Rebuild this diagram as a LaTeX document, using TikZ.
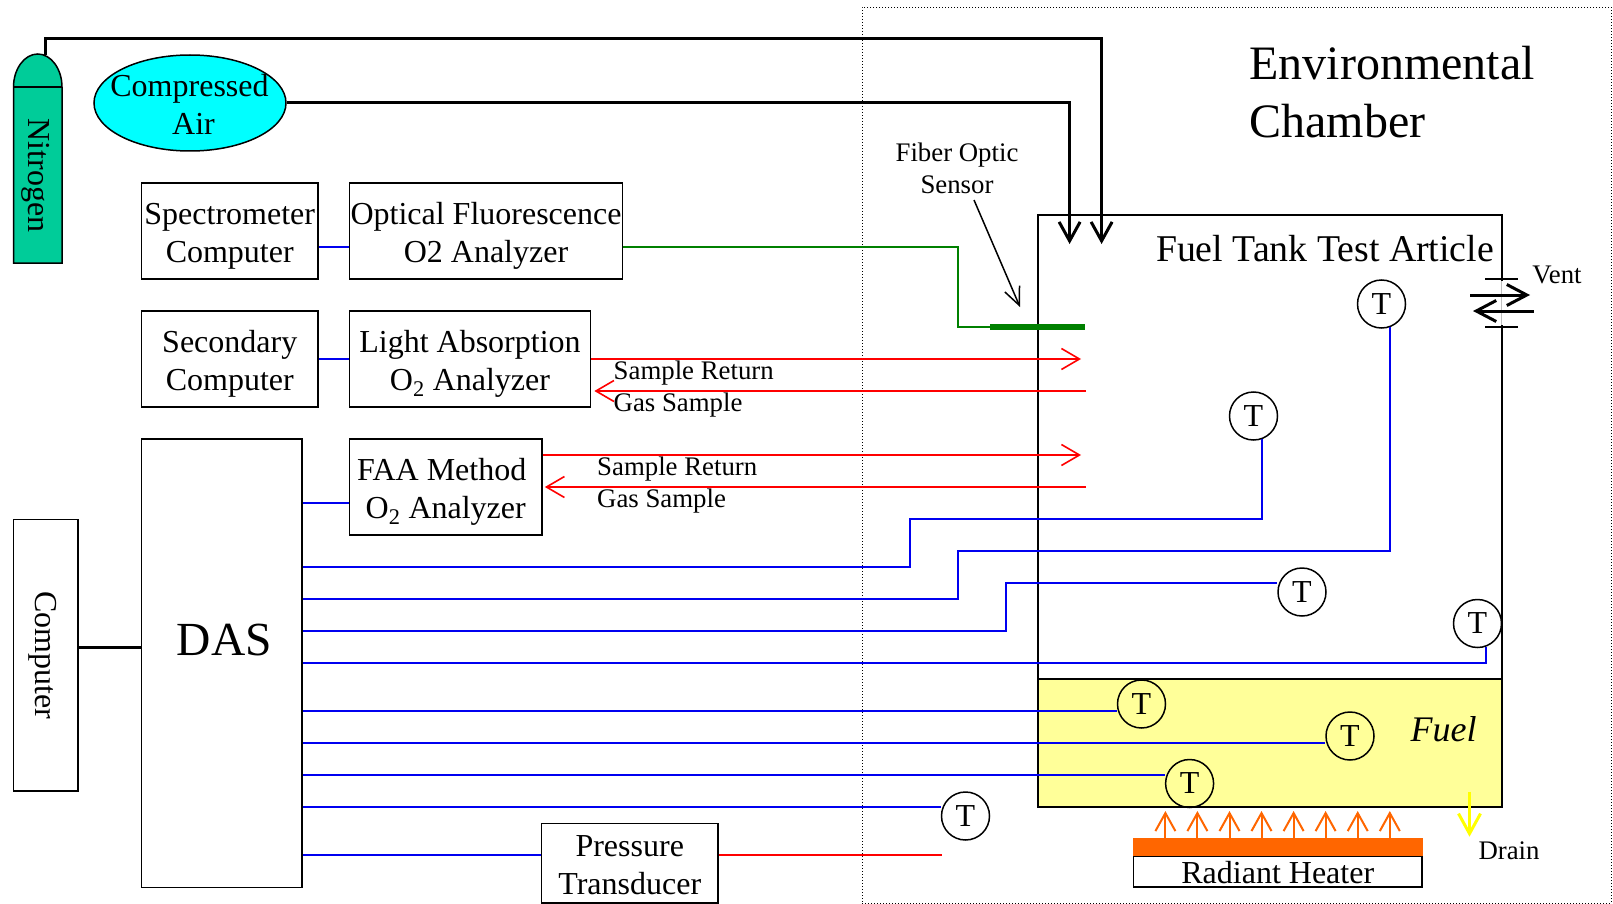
\documentclass[tikz,border=0pt]{standalone}
\usepackage{fontspec}
\setmainfont{Liberation Serif}
\usetikzlibrary{arrows.meta,calc,shapes.geometric}
\definecolor{nitro}{HTML}{00CC99}
\definecolor{fuelc}{HTML}{FFFF99}
\definecolor{heat}{HTML}{FF6600}
\definecolor{grn}{HTML}{008000}
\definecolor{blu}{HTML}{0000F0}
\definecolor{aircol}{HTML}{00FFFF}
\definecolor{drainc}{HTML}{FFFF00}
\definecolor{redc}{HTML}{FF0000}
\newcommand{\fs}[2]{\fontsize{#1pt}{#2pt}\selectfont}
\tikzset{
 box/.style={draw=black,line width=1.7pt,inner sep=0pt},
 bigtxt/.style={inner sep=0pt,align=center,font=\fs{32}{38}},
 small/.style={inner sep=0pt,align=center,font=\fs{26.8}{32}},
 boxtext/.style={bigtxt,yshift=-5pt},
 tnode/.style={draw=black,line width=1.5pt,circle,minimum size=48pt,inner sep=0pt,font=\fs{32}{38}},
 blueline/.style={draw=blu,line width=2pt},
 redline/.style={draw=redc,line width=1.6pt},
 redarrow/.style={redline,-{Straight Barb[length=18pt,width=21pt]}},
 blackpipe/.style={draw=black,line width=3pt,-{Straight Barb[length=19pt,width=21pt]}},
 vent/.style={draw=black,line width=3pt,-{Straight Barb[length=20pt,width=21pt]}},
 heatarrow/.style={draw=heat,line width=2pt,-{Straight Barb[length=18pt,width=20pt]}},
}
\begin{document}
\begin{tikzpicture}[x=1pt,y=-1pt]
\useasboundingbox (0,0) rectangle (1613,904);
\fill[white] (0,0) rectangle (1613,904);
% chamber
\node[draw=black,dash pattern=on 1pt off 2pt,line width=0.8pt,inner sep=0pt,minimum width=749pt,minimum height=896pt] (chamber) at (1236.5,455) {};
\node[inner sep=0pt,align=left,font=\fs{48}{58}] (envlabel) at (1392,92) {Environmental\\Chamber};
% tank
\node[draw=black,line width=2pt,inner sep=0pt,minimum width=464pt,minimum height=464pt] (tank) at (1269.5,447) {};
\node[draw=black,fill=fuelc,line width=2pt,inner sep=0pt,minimum width=464pt,minimum height=128pt] (fuel) at (1269.5,743) {};
\node[inner sep=0pt,font=\fs{37.8}{40}] (tanklabel) at (1325,249) {Fuel Tank Test Article};
\node[inner sep=0pt,font=\fs{36}{40}\itshape] (fuellabel) at (1443.7,729) {Fuel};
% vent
\draw[white,line width=2.6pt] (1501.6,281) -- (1501.6,325);
\draw[black!25,line width=1.2pt] (1501.6,281) -- (1501.6,325);
\coordinate (ventA) at (1485,279); \coordinate (ventB) at (1518,279);
\coordinate (ventC) at (1485,327); \coordinate (ventD) at (1518,327);
\draw[black,line width=1.5pt] (ventA) -- (ventB);
\draw[black,line width=1.5pt] (ventC) -- (ventD);
\coordinate (vent1) at (1470,295); \coordinate (vent2) at (1530,295);
\coordinate (vent3) at (1533.6,311); \coordinate (vent4) at (1473,311);
\draw[vent] (vent1) -- (vent2);
\draw[vent] (vent3) -- (vent4);
\node[small] (ventlabel) at (1557,275) {Vent};
% nitrogen
\draw[fill=nitro,line width=1.5pt] (13.5,87) .. controls (13.5,69) and (24.4,54) .. (37.75,54) .. controls (51.1,54) and (62,69) .. (62,87) -- (62,263) -- (13.5,263) -- cycle;
\draw[line width=1.5pt] (13.5,87) -- (62,87);
\node[bigtxt,rotate=-90] (nitrogen) at (36,175.5) {Nitrogen};
\node[draw=black,fill=aircol,line width=1.5pt,ellipse,inner sep=0pt,minimum width=192pt,minimum height=96pt] (air) at (190,103) {};
\node[bigtxt] (airlabel) at (189.5,104) {Compressed\\\hspace*{8pt}Air};
% boxes
\node[box,minimum width=176.5pt,minimum height=96pt] (spec) at (229.75,231) {};
\node[boxtext] (specl) at (spec) {Spectrometer\\Computer};
\node[box,minimum width=273pt,minimum height=96pt] (opt) at (486,231) {};
\node[boxtext] (optl) at (opt) {Optical Fluorescence\\O2 Analyzer};
\node[box,minimum width=176.5pt,minimum height=96.5pt] (sec) at (229.75,359) {};
\node[boxtext] (secl) at (sec) {Secondary\\Computer};
\node[box,minimum width=241pt,minimum height=96.5pt] (light) at (470,359) {};
\node[boxtext] (lightl) at (light) {Light Absorption\\O\textsubscript{2} Analyzer};
\node[box,minimum width=160.5pt,minimum height=448.5pt] (das) at (221.75,663.25) {};
\node[inner sep=0pt,font=\fs{47.5}{50}] (daslabel) at (224.5,640) {DAS};
\node[box,minimum width=192.5pt,minimum height=96pt] (faa) at (445.75,487) {};
\node[boxtext] (faal) at (faa) {\hspace*{-8pt}FAA Method\\O\textsubscript{2} Analyzer};
\node[box,minimum width=64.5pt,minimum height=271.5pt] (comp) at (45.75,655.25) {};
\node[bigtxt,rotate=-90] (compl) at (42.5,655) {Computer};
\node[box,minimum width=176.5pt,minimum height=79.5pt] (press) at (629.75,863.25) {};
\node[bigtxt,yshift=-2pt] (pressl) at (press) {Pressure\\Transducer};
% T sensors
\node[tnode] (t1) at (1253.5,416) {T};
\node[tnode] (t2) at (1381.5,304) {T};
\node[tnode] (t3) at (1302,592) {T};
\node[tnode] (t4) at (1477.5,623.5) {T};
\node[tnode] (t5) at (1141.5,704) {T};
\node[tnode] (t6) at (1350,736) {T};
\node[tnode] (t7) at (1189.6,783.5) {T};
\node[tnode] (t8) at (965.5,816) {T};
% links
\draw[blueline] (spec.east |- 0,247) -- (opt.west |- 0,247);
\draw[blueline] (sec.east |- 0,359) -- (light.west |- 0,359);
\draw[blueline] (das.east |- 0,503) -- (faa.west |- 0,503);
\draw[line width=3pt] (comp.east) ++(0,-8) coordinate (c1) -- (das.west |- c1);
% pipes
\coordinate (n2top) at (45.7,55);
\coordinate (n2tip) at (1101.6,244);
\coordinate (airtip) at (1069.6,244);
\draw[blackpipe] (n2top) |- (1101.6,39) -- (n2tip);
\draw[blackpipe] (air.east) -- (1069.6,103) -- (airtip);
% fiber optic
\coordinate (bar1) at (990,327); \coordinate (bar2) at (1085,327);
\draw[draw=grn,line width=1.5pt] (opt.east |- 0,247) -| (958,327) -- (bar1);
\draw[draw=grn,line width=6pt] (bar1) -- (bar2);
\node[small] (fiber) at (957,168) {Fiber Optic\\Sensor};
\coordinate (fibertip) at (1020,307);
\draw[line width=1.5pt,-{Straight Barb[length=18pt,width=16pt]}] (974,200) -- (fibertip);
% red lines
\coordinate (r1) at (1081,359); \coordinate (r2) at (1086,391);
\coordinate (r3) at (1081,455); \coordinate (r4) at (1086,487);
\draw[redarrow] (light.east |- r1) -- (r1);
\draw[redarrow] (r2) -- ($(light.east |- r2)+(3,0)$);
\draw[redarrow] (faa.east |- r3) -- (r3);
\draw[redarrow] (r4) -- ($(faa.east |- r4)+(2,0)$);
\node[small,anchor=west] (sr1) at (613.5,373) {Sample Return};
\node[small,anchor=west] (gs1) at (613.5,405) {Gas Sample};
\node[small,anchor=west] (sr2) at (597,469) {Sample Return};
\node[small,anchor=west] (gs2) at (597,501) {Gas Sample};
% sensor wires
\draw[blueline] (das.east |- 0,567) -| (910,519) -| (t1.-70);
\draw[blueline] (das.east |- 0,599) -| (958,551) -| (t2.-70);
\draw[blueline] (das.east |- 0,631) -| (1005.5,583) -- (t3.west |- 0,583);
\draw[blueline] (das.east |- 0,663) -| (t4.-70);
\draw[blueline] (das.east |- 0,711) -- (t5.west |- 0,711);
\draw[blueline] (das.east |- 0,743) -- (t6.west |- 0,743);
\draw[blueline] (das.east |- 0,775) -- (t7.west |- 0,775);
\draw[blueline] (das.east |- 0,807) -- (t8.west |- 0,807);
\draw[blueline] (das.east |- 0,855) -- (press.west |- 0,855);
\coordinate (pt) at (942,855);
\draw[redline] (press.east |- pt) -- (pt);
% heater
\node[draw=black,line width=1.7pt,inner sep=0pt,minimum width=288.5pt,minimum height=31pt] (heater) at (1277.75,871.5) {};
\node[inner sep=0pt,font=\fs{32}{36},yshift=-1pt] (heaterl) at (heater) {Radiant Heater};
\node[fill=heat,inner sep=0pt,minimum width=289.6pt,minimum height=18pt] (heatbar) at (1277.8,847) {};
\foreach \hx/\hn in {1165.4/a,1197.4/b,1229.5/c,1261.5/d,1293.6/e,1325.6/f,1357.7/g,1389.8/h}{
  \coordinate (ht\hn) at (\hx,811);
  \draw[heatarrow] (heatbar.north -| ht\hn) -- (ht\hn);
}
% drain
\coordinate (dr1) at (1469.5,791.7); \coordinate (dr2) at (1469.5,836.7);
\draw[draw=drainc,line width=3pt,-{Straight Barb[length=20pt,width=22pt]}] (dr1) -- (dr2);
\node[small] (drain) at (1509,851) {Drain};
\end{tikzpicture}
\end{document}
